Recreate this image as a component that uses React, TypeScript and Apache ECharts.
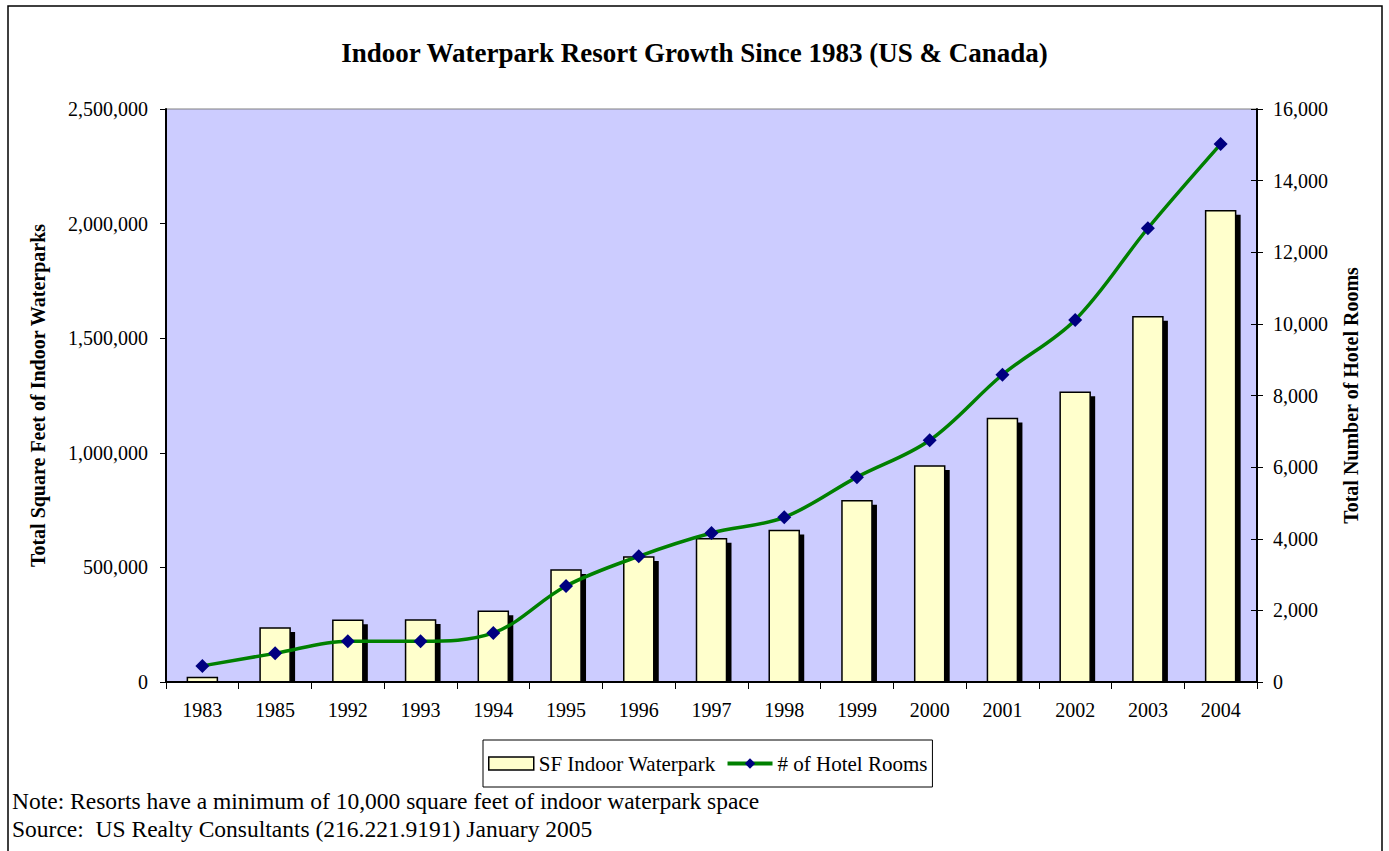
import React, { useEffect, useRef } from "react";
import * as echarts from "echarts";

const categories = ["1983", "1985", "1992", "1993", "1994", "1995", "1996", "1997", "1998", "1999", "2000", "2001", "2002", "2003", "2004"];
const sqftValues = [20000, 236000, 269000, 270000, 309000, 489000, 545000, 625000, 661000, 791000, 942000, 1150000, 1264000, 1594000, 2056000];
const roomValues = [450, 800, 1140, 1140, 1370, 2680, 3510, 4160, 4600, 5720, 6750, 8580, 10110, 12670, 15020];

const titleText = "Indoor Waterpark Resort Growth Since 1983 (US & Canada)";
const leftAxisName = "Total Square Feet of Indoor Waterparks";
const rightAxisName = "Total Number of Hotel Rooms";
const barName = "SF Indoor Waterpark";
const lineName = "# of Hotel Rooms";
const noteText = "Note: Resorts have a minimum of 10,000 square feet of indoor waterpark space";
const sourceText = "Source:  US Realty Consultants (216.221.9191) January 2005";

const FONT = '"Liberation Serif", "Times New Roman", serif';
const BAR_W = 30;
const SH_X = 5;
const SH_Y = 4;

export default function App() {
  const ref = useRef<HTMLDivElement>(null);
  useEffect(() => {
    if (!ref.current) return;
    const chart = echarts.init(ref.current, undefined, { renderer: "svg" });
    const fmt = (v: number) => v.toLocaleString("en-US");
    chart.setOption({
      animation: false,
      backgroundColor: "#ffffff",
      textStyle: { fontFamily: FONT, color: "#000" },
      title: {
        text: titleText,
        left: "center",
        top: 34,
        textStyle: { fontFamily: FONT, fontSize: 27, fontWeight: "bold", color: "#000" },
      },
      grid: {
        left: 166,
        right: 132,
        top: 109,
        bottom: 169,
        show: true,
        backgroundColor: "#CCCCFF",
        borderColor: "#808080",
        borderWidth: 1,
      },
      legend: {
        left: 483,
        top: 740,
        orient: "horizontal",
        padding: [13, 5, 13, 5],
        itemGap: 10,
        itemWidth: 45,
        itemHeight: 13,
        borderColor: "#000",
        borderWidth: 1,
        textStyle: { fontFamily: FONT, fontSize: 21, color: "#000" },
        data: [
          {
            name: barName,
            icon: "rect",
            itemStyle: { color: "#FFFFCC", borderColor: "#000", borderWidth: 1.5 },
          },
          { name: lineName, lineStyle: { width: 4, color: "#008000" }, itemStyle: { color: "#000080" } },
        ],
      },
      xAxis: {
        type: "category",
        data: categories,
        z: 5,
        axisLine: { show: true, lineStyle: { color: "#000", width: 2 } },
        axisTick: { show: true, length: 7, inside: false, lineStyle: { color: "#000" } },
        axisLabel: { fontFamily: FONT, fontSize: 20, color: "#000", margin: 18 },
        splitLine: { show: false },
      },
      yAxis: [
        {
          type: "value",
          min: 0,
          max: 2500000,
          interval: 500000,
          position: "left",
          name: leftAxisName,
          nameLocation: "middle",
          nameRotate: 90,
          nameGap: 118,
          nameTextStyle: { fontFamily: FONT, fontSize: 20, fontWeight: "bold", color: "#000" },
          axisLine: { show: true, lineStyle: { color: "#000", width: 2 } },
          axisTick: { show: true, length: 6, lineStyle: { color: "#000" } },
          axisLabel: { fontFamily: FONT, fontSize: 20, color: "#000", margin: 18, formatter: fmt },
          splitLine: { show: false },
        },
        {
          type: "value",
          min: 0,
          max: 16000,
          interval: 2000,
          position: "right",
          name: rightAxisName,
          nameLocation: "middle",
          nameRotate: 90,
          nameGap: 84,
          nameTextStyle: { fontFamily: FONT, fontSize: 20, fontWeight: "bold", color: "#000" },
          axisLine: { show: true, lineStyle: { color: "#000", width: 2 } },
          axisTick: { show: true, length: 6, lineStyle: { color: "#000" } },
          axisLabel: { fontFamily: FONT, fontSize: 20, color: "#000", margin: 16, formatter: fmt },
          splitLine: { show: false },
        },
        {
          type: "value",
          min: 0,
          max: 16000,
          interval: 2000,
          position: "right",
          axisLine: { show: false },
          axisTick: { show: true, inside: true, length: 6, lineStyle: { color: "#000" } },
          axisLabel: { show: false },
          splitLine: { show: false },
        },
      ],
      series: [
        {
          name: barName,
          type: "custom",
          yAxisIndex: 0,
          data: sqftValues.map((v, i) => [i, v]),
          encode: { x: 0, y: 1 },
          itemStyle: { color: "#FFFFCC", borderColor: "#000", borderWidth: 1.5 },
          renderItem: (params: any, api: any) => {
            const top = api.coord([api.value(0), api.value(1)]);
            const base = api.coord([api.value(0), 0]);
            const h = base[1] - top[1];
            return {
              type: "group",
              children: [
                {
                  type: "rect",
                  shape: { x: top[0] - BAR_W / 2 + SH_X, y: top[1] + SH_Y, width: BAR_W, height: Math.max(0, h - SH_Y) },
                  style: { fill: "#000" },
                },
                {
                  type: "rect",
                  shape: { x: top[0] - BAR_W / 2, y: top[1], width: BAR_W, height: h },
                  style: { fill: "#FFFFCC", stroke: "#000", lineWidth: 1.5 },
                },
              ],
            };
          },
        },
        {
          name: lineName,
          type: "line",
          yAxisIndex: 1,
          data: roomValues,
          smooth: 0.35,
          symbol: "diamond",
          symbolSize: 14,
          lineStyle: { color: "#008000", width: 3.5 },
          itemStyle: { color: "#000080" },
          z: 5,
        },
      ],
      graphic: [
        {
          type: "rect",
          silent: true,
          z: -10,
          shape: { x: 8, y: 6, width: 1374, height: 900 },
          style: { fill: "none", stroke: "#000", lineWidth: 1.5 },
        },
        {
          type: "text",
          x: 12,
          y: 801,
          style: { text: noteText, fontFamily: FONT, fontSize: 23.5, fill: "#000", verticalAlign: "middle" },
        },
        {
          type: "text",
          x: 12,
          y: 829,
          style: { text: sourceText, fontFamily: FONT, fontSize: 23.5, fill: "#000", verticalAlign: "middle" },
        },
      ],
    });
    return () => chart.dispose();
  }, []);
  return (
    <div
      ref={ref}
      style={{ position: "absolute", left: 0, top: 0, width: 1389, height: 851, background: "#fff" }}
    />
  );
}
